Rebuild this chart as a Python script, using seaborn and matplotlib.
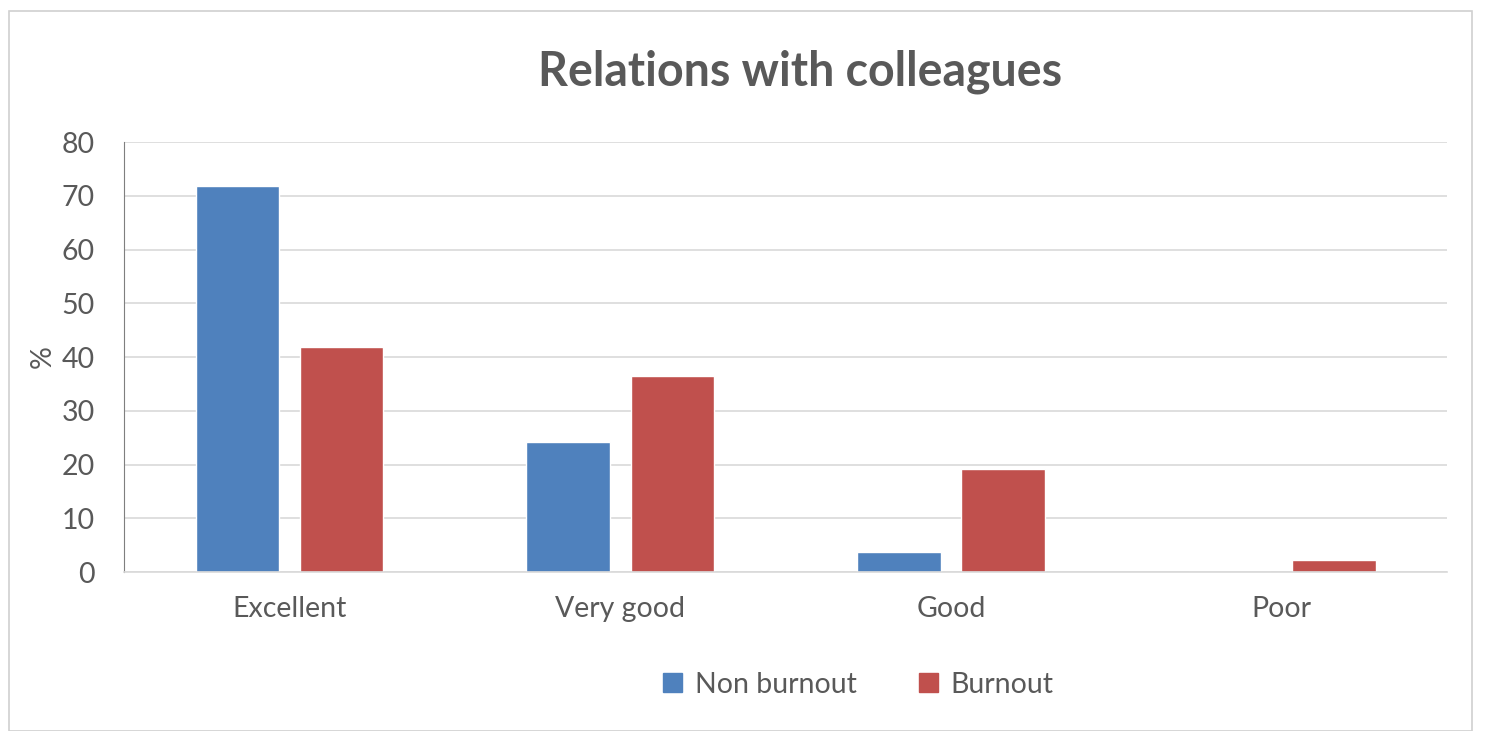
import pandas as pd
import seaborn as sns
import matplotlib.pyplot as plt
from matplotlib.patches import Rectangle

categories = ["Excellent", "Very good", "Good", "Poor"]
non_burnout = [71.8, 24.2, 3.7, 0.0]
burnout = [41.9, 36.5, 19.2, 2.2]
groups = ["Non burnout", "Burnout"]
colors = ["#4f81bd", "#c0504d"]

df = pd.DataFrame({
    "cat": categories * 2,
    "val": non_burnout + burnout,
    "grp": [groups[0]] * 4 + [groups[1]] * 4,
})

sns.set_style("white")
plt.rcParams["font.family"] = ["Lato", "DejaVu Sans"]
txt = "#595959"
fs = 20.5

fig = plt.figure(figsize=(14.85, 7.31), dpi=100)
# outer chart frame, behind the axes
fig.patches.append(Rectangle((0.006, 0.0), 0.985, 0.985, transform=fig.transFigure,
                             facecolor="white", edgecolor="#d0d0d0", lw=1.2, zorder=-5))
ax = fig.add_axes([0.0835, 0.2175, 0.891, 0.5882])
ax.patch.set_alpha(0)

sns.barplot(data=df, x="cat", y="val", hue="grp", order=categories,
            hue_order=groups, palette=colors, width=0.63, gap=0.2,
            saturation=1, ax=ax, legend=False)

ax.set_ylim(0, 80)
ax.set_yticks(range(0, 81, 10))
ax.set_xlim(-0.5, 3.5)
ax.grid(axis="y", color="#d9d9d9", lw=1.2)
ax.set_axisbelow(True)
for s in ["top", "right"]:
    ax.spines[s].set_visible(False)
ax.spines["left"].set_color("#7f7f7f")
ax.spines["bottom"].set_color("#d9d9d9")
ax.spines["bottom"].set_linewidth(1.2)

ax.tick_params(axis="y", length=0, labelsize=fs, labelcolor=txt, pad=21)
ax.tick_params(axis="x", which="major", length=0, labelsize=fs, labelcolor=txt, pad=17)
ax.set_xticks([-0.5, 0.5, 1.5, 2.5, 3.5], minor=True)
ax.tick_params(axis="x", which="minor", length=8, color="#d9d9d9", width=1.2)

ax.set_xlabel("")
ax.set_ylabel("%", fontsize=fs, color=txt, labelpad=4)
fig.text(0.539, 0.902, "Relations with colleagues", ha="center", va="center",
         fontsize=33.5, fontweight="bold", color=txt)

handles = [Rectangle((0, 0), 1, 1, color=c) for c in colors]
fig.legend(handles, groups, loc="center", bbox_to_anchor=(0.578, 0.063), ncol=2,
           frameon=False, fontsize=fs, labelcolor=txt, handlelength=0.65,
           handleheight=0.65, handletextpad=0.45, columnspacing=2.2)

fig.savefig("out.png", dpi=100)
